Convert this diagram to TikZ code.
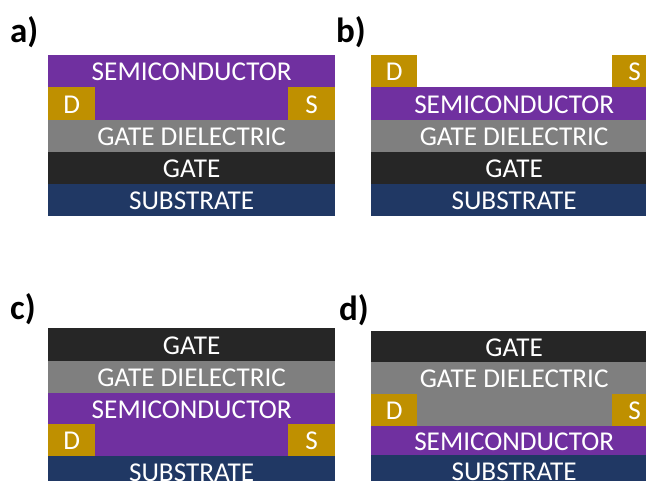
\documentclass[tikz,border=0pt]{standalone}
\usepackage{fontspec}
\setmainfont{Carlito}
\definecolor{semic}{HTML}{7030A0}
\definecolor{contact}{HTML}{BF9000}
\definecolor{diel}{HTML}{7F7F7F}
\definecolor{gatec}{HTML}{262626}
\definecolor{subs}{HTML}{203864}
\tikzset{
  lay/.style={rectangle, anchor=north west, inner sep=0pt, outer sep=0pt, draw=none},
  txt/.style={inner sep=0pt, outer sep=0pt, text=white, font=\fontsize{27.2}{30}\selectfont},
  panlabel/.style={anchor=base west, inner sep=0pt, text=black, font=\fontsize{35}{38}\selectfont\bfseries}
}
% name, x, y, width, height, colour, text
\newcommand\blk[7]{%
  \node[lay, fill=#6, minimum width=#4pt, minimum height=#5pt] (#1) at (#2,#3) {};
  \node[txt] (#1-t) at ([yshift=-1pt]#1.center) {#7};
}
\begin{document}
\begin{tikzpicture}[x=1pt,y=-1pt]
\useasboundingbox (0,0) rectangle (646,480);
\clip (0,0) rectangle (646,480);
\fill[white] (0,0) rectangle (646,480);

% ---------- a) ----------
\node[panlabel] (la) at (10,42) {a)};
\blk{aS}{48.3}{55}{286.7}{32.4}{semic}{SEMICONDUCTOR}
\blk{aC}{95}{87.3}{193}{32.3}{semic}{}
\blk{aD}{48.3}{87.3}{46.7}{32.3}{contact}{D}
\blk{aSr}{288}{87.3}{47}{32.3}{contact}{S}
\blk{aGD}{48.3}{119.5}{286.7}{32.3}{diel}{GATE DIELECTRIC}
\blk{aG}{48.3}{151.7}{286.7}{32.4}{gatec}{GATE}
\blk{aSub}{48.3}{184}{286.7}{32}{subs}{SUBSTRATE}

% ---------- b) ----------
\node[panlabel] (lb) at (336,42) {b)};
\blk{bD}{371}{55}{46.3}{32.4}{contact}{D}
\blk{bSr}{611.7}{55}{45.6}{32.4}{contact}{S}
\blk{bS}{371}{87.3}{286.3}{32.3}{semic}{SEMICONDUCTOR}
\blk{bGD}{371}{119.5}{286.3}{32.3}{diel}{GATE DIELECTRIC}
\blk{bG}{371}{151.7}{286.3}{32.4}{gatec}{GATE}
\blk{bSub}{371}{184}{286.3}{32}{subs}{SUBSTRATE}

% ---------- c) ----------
\node[panlabel] (lc) at (10,319) {c)};
\blk{cG}{48.3}{328.3}{286.7}{32.8}{gatec}{GATE}
\blk{cGD}{48.3}{361}{286.7}{31.8}{diel}{GATE DIELECTRIC}
\blk{cS}{48.3}{392.7}{286.7}{31.4}{semic}{SEMICONDUCTOR}
\blk{cC}{95}{424}{193}{31.8}{semic}{}
\blk{cD}{48.3}{424}{46.7}{31.8}{contact}{D}
\blk{cSr}{288}{424}{47}{31.8}{contact}{S}
\blk{cSub}{48.3}{455.7}{286.7}{32}{subs}{SUBSTRATE}

% ---------- d) ----------
\node[panlabel] (ld) at (339,320) {d)};
\blk{dG}{371}{330.7}{286.3}{31.7}{gatec}{GATE}
\node[lay, fill=diel, minimum width=286.3pt, minimum height=63.5pt] (dGD) at (371,362.3) {};
\node[txt] (dGD-t) at (514.2,379.2) {GATE DIELECTRIC};
\blk{dD}{371}{394}{46.3}{31.8}{contact}{D}
\blk{dSr}{611.7}{394}{45.6}{31.8}{contact}{S}
\blk{dS}{371}{425.7}{286.3}{29.4}{semic}{SEMICONDUCTOR}
\blk{dSub}{371}{455}{286.3}{32}{subs}{SUBSTRATE}
\end{tikzpicture}
\end{document}
